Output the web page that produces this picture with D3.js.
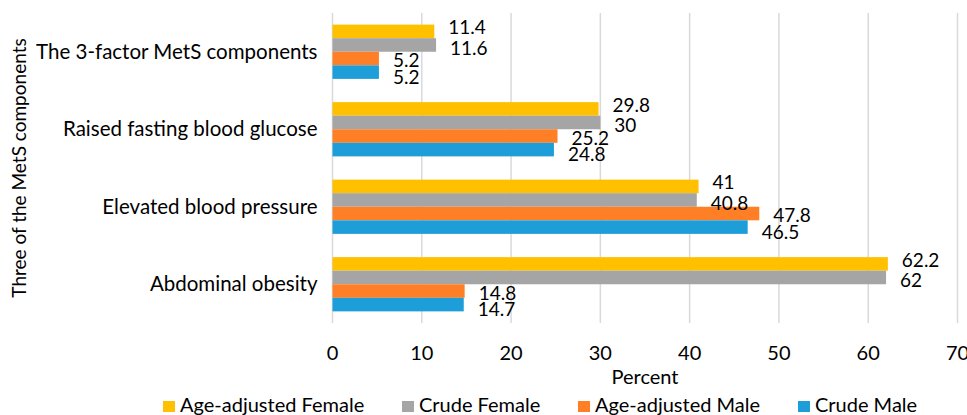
<!DOCTYPE html>
<html>
<head>
<meta charset="utf-8">
<script src="https://cdn.jsdelivr.net/npm/d3@7"></script>
<style>
  body { margin: 0; background: #fff; }
  svg text { font-family: Lato, 'Open Sans', sans-serif; fill: #000; }
</style>
</head>
<body>
<div id="chart"></div>
<script>
// categories, top to bottom
const categories = [
  'The 3-factor MetS components',
  'Raised fasting blood glucose',
  'Elevated blood pressure',
  'Abdominal obesity'
];
const seriesNames = ['Age-adjusted Female', 'Crude Female', 'Age-adjusted Male', 'Crude Male'];
const ageAdjustedFemale = [11.4, 29.8, 41, 62.2];
const crudeFemale = [11.6, 30, 40.8, 62];
const ageAdjustedMale = [5.2, 25.2, 47.8, 14.8];
const crudeMale = [5.2, 24.8, 46.5, 14.7];
const xTicks = [0, 10, 20, 30, 40, 50, 60, 70];

const seriesColors = ['#FFC000', '#A5A5A5', '#FF7F27', '#1E9ED9'];
// excel labels sit a bit off-center, per series
const labelShift = [-4, 3, 2, 5];

class BarChart {
  constructor(_config) {
    this.config = {
      parentElement: _config.parentElement,
      containerWidth: 967,
      containerHeight: 415,
      margin: { top: 13, right: 9.5, bottom: 92, left: 332.5 }
    };
    this.initVis();
  }

  initVis() {
    let vis = this;
    vis.width = vis.config.containerWidth - vis.config.margin.left - vis.config.margin.right;
    vis.height = vis.config.containerHeight - vis.config.margin.top - vis.config.margin.bottom;

    vis.svg = d3.select(vis.config.parentElement).append('svg')
      .attr('width', vis.config.containerWidth)
      .attr('height', vis.config.containerHeight);

    vis.chartArea = vis.svg.append('g')
      .attr('transform', `translate(${vis.config.margin.left},${vis.config.margin.top})`);

    vis.xScale = d3.scaleLinear()
      .domain([0, 70])
      .range([0, vis.width]);

    vis.yScale = d3.scaleBand()
      .domain(categories)
      .range([0, vis.height])
      .paddingInner(0.3)
      .paddingOuter(0.15);

    vis.seriesScale = d3.scaleBand()
      .domain(seriesNames)
      .range([0, vis.yScale.bandwidth()]);

    vis.data = [ageAdjustedFemale, crudeFemale, ageAdjustedMale, crudeMale];

    vis.renderVis();
  }

  renderVis() {
    let vis = this;

    // gridlines
    vis.chartArea.selectAll('.grid-line-x')
      .data(xTicks)
      .enter()
      .append('line')
      .attr('class', 'grid-line-x')
      .attr('x1', d => vis.xScale(d))
      .attr('x2', d => vis.xScale(d))
      .attr('y1', 0)
      .attr('y2', vis.height)
      .attr('stroke', '#D9D9D9')
      .attr('stroke-width', 1.5);

    // x tick labels
    vis.chartArea.selectAll('.x-tick')
      .data(xTicks)
      .enter()
      .append('text')
      .attr('class', 'x-tick')
      .attr('x', d => vis.xScale(d))
      .attr('y', vis.height + 37)
      .attr('text-anchor', 'middle')
      .style('font-size', '20px')
      .text(d => d);

    vis.chartArea.append('text')
      .attr('x', vis.width / 2)
      .attr('y', vis.height + 61)
      .attr('text-anchor', 'middle')
      .style('font-size', '20px')
      .text('Percent');

    // category labels
    vis.chartArea.selectAll('.cat-label')
      .data(categories)
      .enter()
      .append('text')
      .attr('class', 'cat-label')
      .attr('x', -15)
      .attr('y', d => vis.yScale(d) + vis.yScale.bandwidth() / 2)
      .attr('dy', '0.35em')
      .attr('text-anchor', 'end')
      .style('font-size', '20.5px')
      .text(d => d);

    vis.svg.append('text')
      .attr('transform', 'translate(26,168) rotate(-90)')
      .attr('text-anchor', 'middle')
      .style('font-size', '19px')
      .text('Three of the MetS components');

    // bars
    const rows = [];
    vis.data.forEach((vals, si) => {
      vals.forEach((v, ci) => rows.push({ series: seriesNames[si], si: si, cat: categories[ci], value: v }));
    });

    vis.chartArea.selectAll('.bar')
      .data(rows)
      .enter()
      .append('rect')
      .attr('class', 'bar')
      .attr('x', vis.xScale(0))
      .attr('y', d => vis.yScale(d.cat) + vis.seriesScale(d.series))
      .attr('width', d => vis.xScale(d.value) - vis.xScale(0))
      .attr('height', vis.seriesScale.bandwidth())
      .attr('fill', d => seriesColors[d.si]);

    vis.chartArea.selectAll('.bar-label')
      .data(rows)
      .enter()
      .append('text')
      .attr('class', 'bar-label')
      .attr('x', d => vis.xScale(d.value) + 14)
      .attr('y', d => vis.yScale(d.cat) + vis.seriesScale(d.series) + vis.seriesScale.bandwidth() / 2 + labelShift[d.si])
      .attr('dy', '0.35em')
      .style('font-size', '19px')
      .text(d => d.value);

    // legend
    const legendX = [163, 402, 578, 798];
    const legend = vis.svg.selectAll('.legend-item')
      .data(seriesNames)
      .enter()
      .append('g')
      .attr('class', 'legend-item')
      .attr('transform', (d, i) => `translate(${legendX[i]},401)`);

    legend.append('rect')
      .attr('width', 12)
      .attr('height', 11)
      .attr('fill', (d, i) => seriesColors[i]);

    legend.append('text')
      .attr('x', 17)
      .attr('y', 11)
      .style('font-size', '20px')
      .text(d => d);
  }
}

const barChart = new BarChart({ parentElement: '#chart' });
</script>
</body>
</html>
